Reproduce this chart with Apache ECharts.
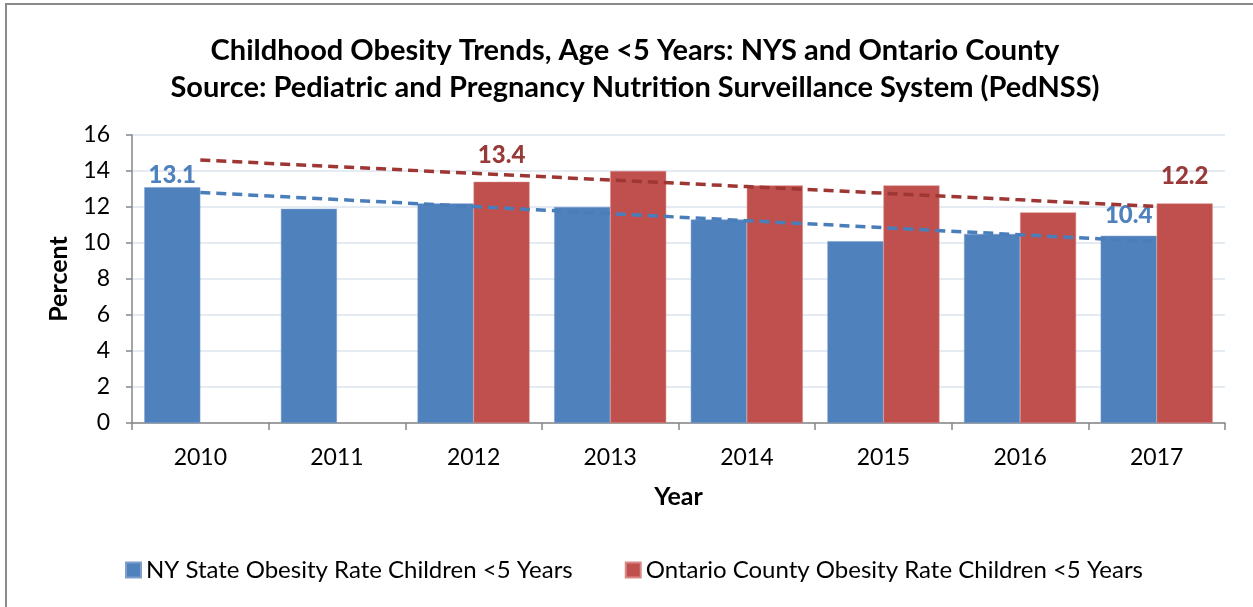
<!DOCTYPE html>
<html>
<head>
<meta charset="utf-8">
<script src="https://cdn.jsdelivr.net/npm/echarts@6/dist/echarts.min.js"></script>
<style>
  html, body { margin: 0; padding: 0; background: #fff; }
  #chart { width: 1253px; height: 607px; }
</style>
</head>
<body>
<div id="chart"></div>
<script>
// data
const years = ["2010", "2011", "2012", "2013", "2014", "2015", "2016", "2017"];
const nysRate = [13.1, 11.9, 12.2, 12.0, 11.3, 10.1, 10.5, 10.4];
const ontarioRate = [null, null, 13.4, 14.0, 13.2, 13.2, 11.7, 12.2];
const nysLabelIdx = [0, 7];
const ontarioLabelIdx = [2, 7];
const yTicks = [0, 2, 4, 6, 8, 10, 12, 14, 16];

const FONT = "Lato";
const BLUE = "#4F81BD";
const RED = "#C0504D";
// how far above the bar each shown label sits (px), by index
const nysLabelGap = { 0: 0, 7: 9 };
const ontarioLabelGap = { 2: 15, 7: 15 };

// excel style linear trend, over the points that exist, drawn across all years
function trend(vals) {
  let pts = [];
  vals.forEach((v, i) => { if (v != null) pts.push([i, v]); });
  let n = pts.length;
  let mx = pts.reduce((s, p) => s + p[0], 0) / n;
  let my = pts.reduce((s, p) => s + p[1], 0) / n;
  let sxy = 0, sxx = 0;
  pts.forEach((p) => { sxy += (p[0] - mx) * (p[1] - my); sxx += (p[0] - mx) * (p[0] - mx); });
  let k = sxy / sxx;
  return vals.map((v, i) => +(my + k * (i - mx)).toFixed(3));
}

function withLabels(vals, idx, gaps, color) {
  return vals.map((v, i) => {
    if (idx.indexOf(i) < 0) return v;
    return {
      value: v,
      label: {
        show: true, position: "top", distance: gaps[i],
        color: color, fontFamily: FONT, fontWeight: 900, fontSize: 24,
      },
    };
  });
}

const chart = echarts.init(document.getElementById("chart"));
const option = {
  animation: false,
  backgroundColor: "#fff",
  graphic: [
    {
      type: "rect", silent: true, z: 100,
      shape: { x: 6, y: 4, width: 1300, height: 700 },
      style: { fill: "none", stroke: "#8a8a8a", lineWidth: 2 },
    },
  ],
  title: {
    text: "Childhood Obesity Trends, Age <5 Years: NYS and Ontario County\nSource: Pediatric and Pregnancy Nutrition Surveillance System (PedNSS)",
    left: 630, textAlign: "center", top: 27,
    textStyle: {
      fontFamily: FONT, fontWeight: "bold", fontSize: 29, lineHeight: 37, color: "#000",
    },
  },
  legend: {
    data: [
      "NY State Obesity Rate Children <5 Years",
      "Ontario County Obesity Rate Children <5 Years",
    ],
    left: 120, top: 553, itemWidth: 15, itemHeight: 15, itemGap: 52,
    icon: "rect",
    textStyle: { fontFamily: FONT, fontSize: 24, color: "#000" },
  },
  grid: { left: 132, right: 28, top: 135, bottom: 184 },
  xAxis: {
    type: "category",
    data: years,
    name: "Year", nameLocation: "middle", nameGap: 61,
    nameTextStyle: { fontFamily: FONT, fontWeight: "bold", fontSize: 25, color: "#000" },
    axisLine: { lineStyle: { color: "#868686", width: 1.5 } },
    axisTick: { show: true, length: 7, lineStyle: { color: "#868686", width: 1.5 } },
    axisLabel: { fontFamily: FONT, fontSize: 23, color: "#000", margin: 23 },
  },
  yAxis: {
    type: "value",
    min: yTicks[0], max: yTicks[yTicks.length - 1], interval: 2,
    name: "Percent", nameLocation: "middle", nameGap: 61, nameRotate: 90,
    nameTextStyle: { fontFamily: FONT, fontWeight: "bold", fontSize: 25, color: "#000" },
    axisLine: { show: true, lineStyle: { color: "#868686", width: 1.5 } },
    axisTick: { show: true, length: 6, lineStyle: { color: "#868686", width: 1.5 } },
    axisLabel: { fontFamily: FONT, fontSize: 23, color: "#000", margin: 22 },
    splitLine: { lineStyle: { color: "#DCE4EF", width: 1.5 } },
  },
  series: [
    {
      name: "NY State Obesity Rate Children <5 Years",
      type: "bar",
      data: withLabels(nysRate, nysLabelIdx, nysLabelGap, "#4F81BD"),
      barGap: "0%", barCategoryGap: "18%",
      itemStyle: { color: BLUE, borderColor: "#7f9fcc", borderWidth: 0.5 },
    },
    {
      name: "Ontario County Obesity Rate Children <5 Years",
      type: "bar",
      data: withLabels(ontarioRate, ontarioLabelIdx, ontarioLabelGap, "#983A37"),
      barGap: "0%", barCategoryGap: "18%",
      itemStyle: { color: RED, borderColor: "#d98a88", borderWidth: 0.5 },
    },
    {
      name: "NYS trend",
      type: "line",
      data: trend(nysRate),
      symbol: "none", z: 5,
      lineStyle: { color: "#4A7EBB", width: 3.5, type: [10, 6] },
    },
    {
      name: "Ontario trend",
      type: "line",
      data: trend(ontarioRate),
      symbol: "none", z: 5,
      lineStyle: { color: "#9E3633", width: 3.5, type: [10, 6] },
    },
  ],
};
chart.setOption(option);
</script>
</body>
</html>
